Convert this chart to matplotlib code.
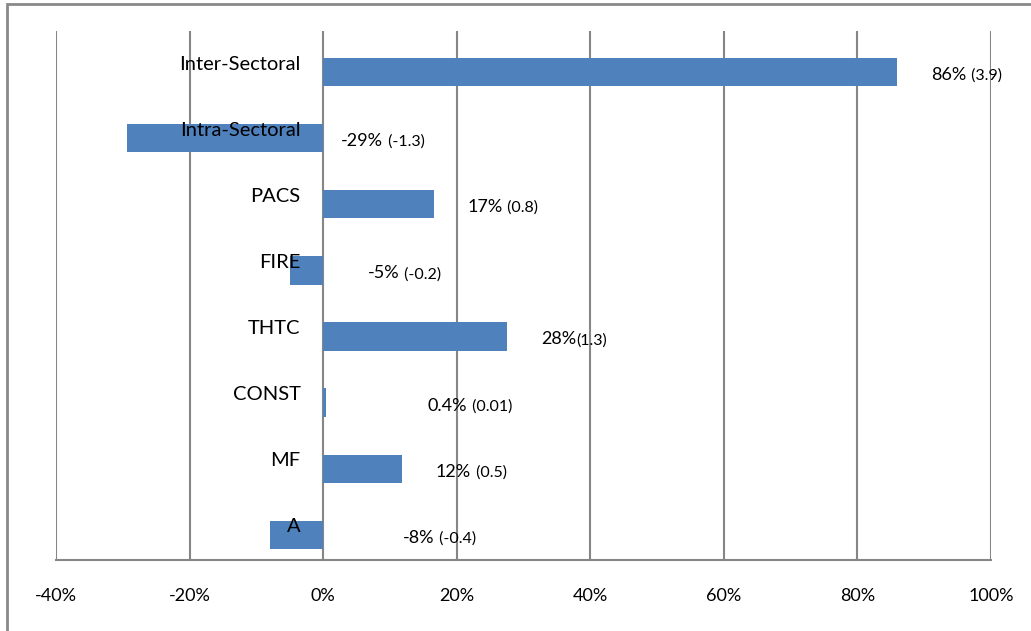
"""Shift-share style horizontal bar chart: sector contributions to growth."""

import matplotlib

matplotlib.use("Agg")

import matplotlib.pyplot as plt
from matplotlib.patches import Rectangle

plt.rcParams["font.family"] = ["Lato", "DejaVu Sans"]

# data, bottom to top
categories = ["A", "MF", "CONST", "THTC", "FIRE", "PACS", "Intra-Sectoral", "Inter-Sectoral"]
shares = [-7.9, 11.8, 0.4, 27.5, -4.9, 16.6, -29.3, 86.0]
pct_labels = ["-8%", "12%", "0.4%", "28%", "-5%", "17%", "-29%", "86%"]
abs_labels = [" (-0.4)", " (0.5)", " (0.01)", "(1.3)", " (-0.2)", " (0.8)", " (-1.3)", " (3.9)"]
label_x = [12.0, 16.9, 15.7, 32.6, 6.7, 21.6, 2.7, 91.0]
xticks = [-40, -20, 0, 20, 40, 60, 80, 100]

BAR_COLOR = "#4F81BD"
GRID_COLOR = "#868686"

fig = plt.figure(figsize=(10.31, 6.31), dpi=100)
ax = fig.add_axes([0.0543, 0.1125, 0.9069, 0.8384])

y = list(range(len(categories)))
bar_y = [v - 0.12 for v in y]
ax.barh(bar_y, shares, height=0.43, color=BAR_COLOR, zorder=3)

ax.set_xlim(-40, 100)
ax.set_ylim(-0.5, len(categories) - 0.5)
ax.set_xticks(xticks)
ax.set_xticklabels([f"{t}%" for t in xticks], fontsize=13)
ax.tick_params(axis="x", length=0, pad=20)
ax.set_yticks([])

for t in xticks:
    ax.axvline(t, color=GRID_COLOR, linewidth=1.5, zorder=1)
for side in ["top", "right", "left"]:
    ax.spines[side].set_visible(False)
ax.spines["bottom"].set_color(GRID_COLOR)
ax.spines["bottom"].set_linewidth(1.5)

for yi, name in zip(y, categories):
    ax.text(-3.4, yi, name, ha="right", va="center", fontsize=14.5, zorder=4)

for by, lx, p, a in zip(bar_y, label_x, pct_labels, abs_labels):
    t = ax.text(lx, by - 0.045, p, ha="left", va="center", fontsize=13, zorder=4)
    ax.annotate(a, xy=(1, 0), xycoords=t, xytext=(0.5, 0), textcoords="offset points",
                ha="left", va="bottom", fontsize=11.5, zorder=4)

# outer chart border (cut off at right and bottom like the source)
fig.patches.append(Rectangle((7 / 1031, -0.1), 1.1, 1.1 - 4 / 631,
                             transform=fig.transFigure, fill=False,
                             edgecolor="#898989", linewidth=2))

fig.savefig("out.png", dpi=100)
